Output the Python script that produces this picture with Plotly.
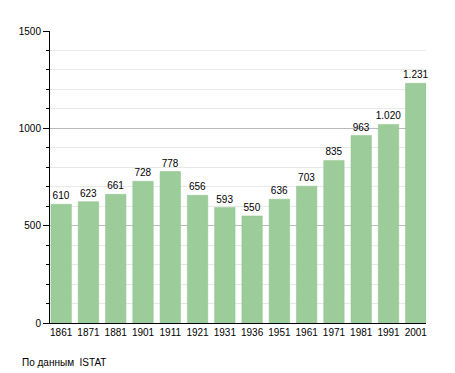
import plotly.graph_objects as go

years = ["1861", "1871", "1881", "1901", "1911", "1921", "1931", "1936", "1951", "1961", "1971", "1981", "1991", "2001"]
population = [610, 623, 661, 728, 778, 656, 593, 550, 636, 703, 835, 963, 1020, 1231]
labels = ["610", "623", "661", "728", "778", "656", "593", "550", "636", "703", "835", "963", "1.020", "1.231"]

FONT = "Liberation Sans, Arial"
fig = go.Figure(go.Bar(
    x=years, y=population, text=labels, textposition="outside",
    textfont=dict(family=FONT, size=10, color="#000"),
    marker=dict(color="#9ccc9a", line=dict(color="#8fc48d", width=0.5)),
    cliponaxis=False,
))
fig.update_layout(
    width=455, height=373, margin=dict(l=50, r=29, t=31, b=50, autoexpand=False),
    paper_bgcolor="white", plot_bgcolor="white", bargap=0.25, showlegend=False,
    uniformtext=dict(minsize=10, mode="show"),
    font=dict(family=FONT, size=10, color="#000"),
    annotations=[dict(text="По данным  ISTAT", xref="paper", yref="paper", x=-0.08, y=-0.134,
                      xanchor="left", yanchor="middle", showarrow=False,
                      font=dict(family=FONT, size=10))],
)
fig.update_xaxes(range=[-0.41, 13.375], showline=True, linecolor="#000", linewidth=1, ticks="",
                 tickfont=dict(size=10), automargin=False)
fig.update_yaxes(range=[0, 1500], tickvals=[0, 500, 1000, 1500], showline=True, linecolor="#000", linewidth=1,
                 ticks="outside", ticklen=6, tickcolor="#000", gridcolor="#bbbbbb", zeroline=False,
                 tickfont=dict(size=10), automargin=False,
                 minor=dict(dtick=100, tick0=0, ticks="outside", ticklen=3, tickcolor="#000",
                            showgrid=True, gridcolor="#e8e8e8"))
fig.write_html("out.html", config={"displayModeBar": False},
               post_script="document.body.style.margin='0';document.body.style.overflow='hidden';")
